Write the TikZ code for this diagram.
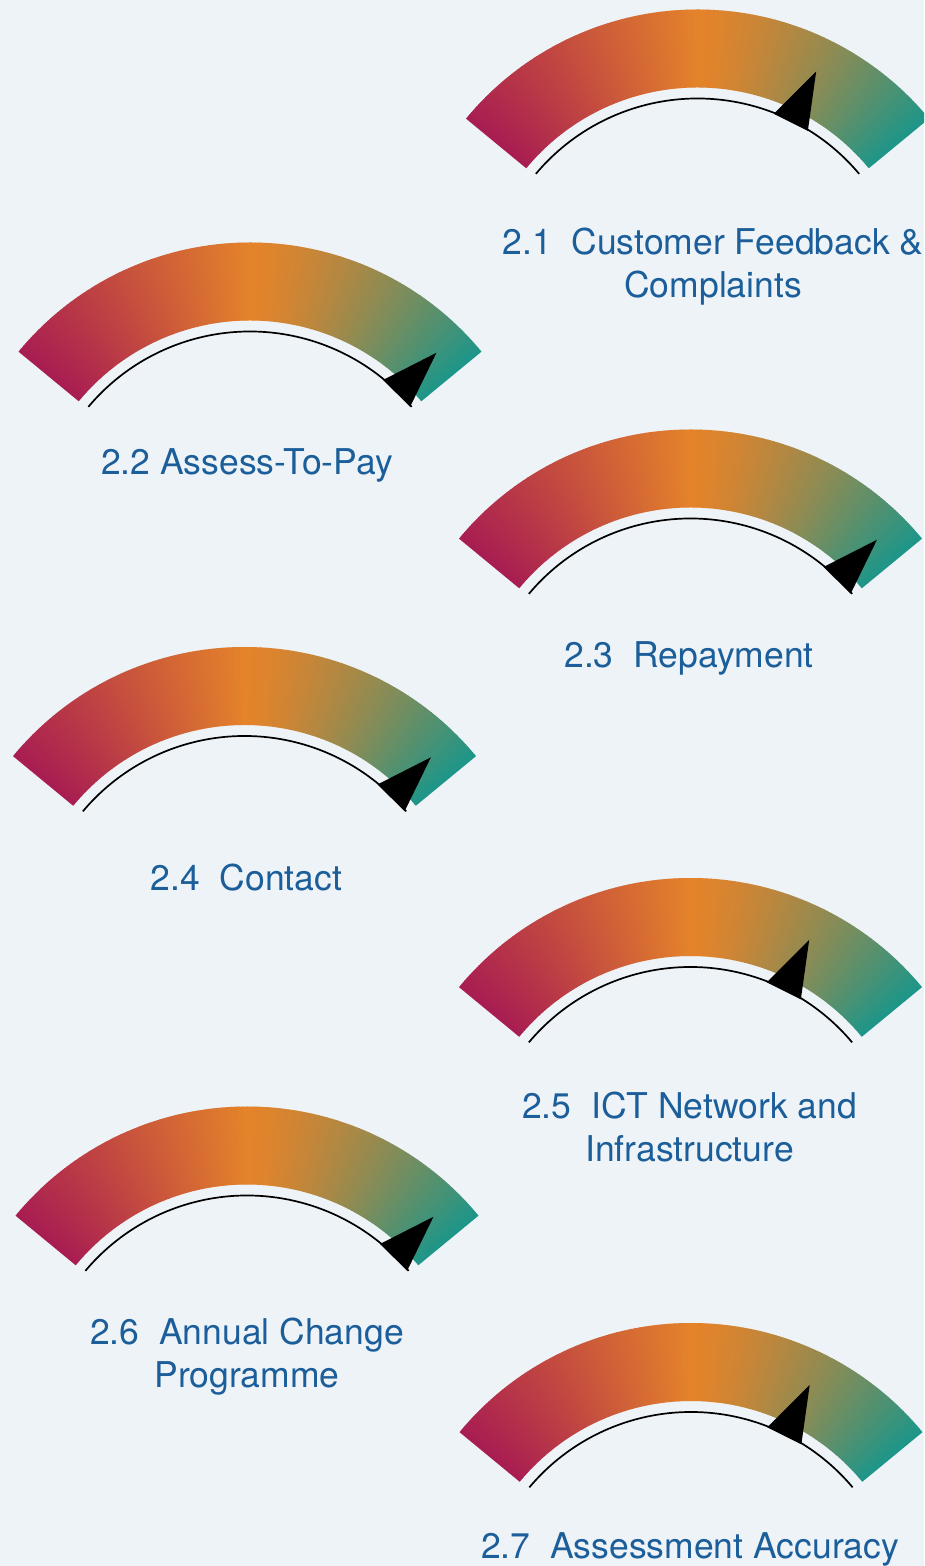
\documentclass[tikz,border=0pt]{standalone}
\usepackage{fontspec}
\newfontfamily\lblfont{TeX Gyre Heros}
\definecolor{bg}{RGB}{238,243,247}
\definecolor{gcrim}{RGB}{168,28,82}
\definecolor{gorange}{RGB}{228,131,42}
\definecolor{gteal}{RGB}{28,150,138}
\definecolor{lblblue}{RGB}{27,94,154}
\tikzset{
  lbl/.style={text=lblblue, font=\lblfont\fontsize{35.5}{43}\selectfont, anchor=base, inner sep=0pt},
  gaugeline/.style={line width=1.7pt, black},
  needlefill/.style={fill=black}
}
\newcommand{\gaugedraw}[3]{%
 \begin{scope}[shift={(#1,#2)}]
  \foreach \i in {0,...,201}{
    \pgfmathsetmacro{\ga}{140.5-\i*0.5}
    \pgfmathsetmacro{\gb}{max(\ga-0.65,39.5)}
    \ifdim\ga pt>90pt
      \pgfmathsetmacro{\gp}{min(abs(\ga-0.25-90)/50.5*100,100)}
      \colorlet{segc}{gcrim!\gp!gorange}
    \else
      \pgfmathsetmacro{\gp}{min(100*((90-\ga+0.25)/50.5)^1.4,100)}
      \colorlet{segc}{gteal!\gp!gorange}
    \fi
    \fill[segc] (\ga:222) -- (\ga:300) -- (\gb:300) -- (\gb:222) -- cycle;
  }
  \draw[gaugeline] (140:211) arc[start angle=140,end angle=40,radius=211];
  \pgfmathsetmacro{\nl}{#3+5.2}
  \pgfmathsetmacro{\nr}{#3-5.2}
  \fill[needlefill] (\nl:210) -- (#3:266) -- (\nr:210) -- cycle;
 \end{scope}
}
\begin{document}
\begin{tikzpicture}[x=1pt,y=1pt]
\useasboundingbox (0,0) rectangle (924,1566);
\fill[bg] (0,0) rectangle (924,1566);
\clip (0,0) rectangle (924,1566);
\gaugedraw{697.5}{1256.5}{63.5}
\gaugedraw{250}{1023.5}{45.5}
\gaugedraw{690.5}{836.5}{45.5}
\gaugedraw{244.5}{619}{45.5}
\gaugedraw{690.5}{388}{63.5}
\gaugedraw{247}{159.5}{45.5}
\gaugedraw{691}{-57}{63.5}
\node[lbl] (l1) at (713,1311) {\begin{tabular}[t]{@{}c@{}}2.1\ \ Customer Feedback \&\\Complaints\end{tabular}};
\node[lbl] (l2) at (247,1091) {2.2 Assess-To-Pay};
\node[lbl] (l3) at (689,898) {2.3\ \ Repayment};
\node[lbl] (l4) at (246.5,675) {2.4\ \ Contact};
\node[lbl] (l5) at (689.5,447) {\begin{tabular}[t]{@{}c@{}}2.5\ \ ICT Network and\\Infrastructure\end{tabular}};
\node[lbl] (l6) at (247,221) {\begin{tabular}[t]{@{}c@{}}2.6\ \ Annual Change\\Programme\end{tabular}};
\node[lbl] (l7) at (690,7) {2.7\ \ Assessment Accuracy};
\end{tikzpicture}
\end{document}
